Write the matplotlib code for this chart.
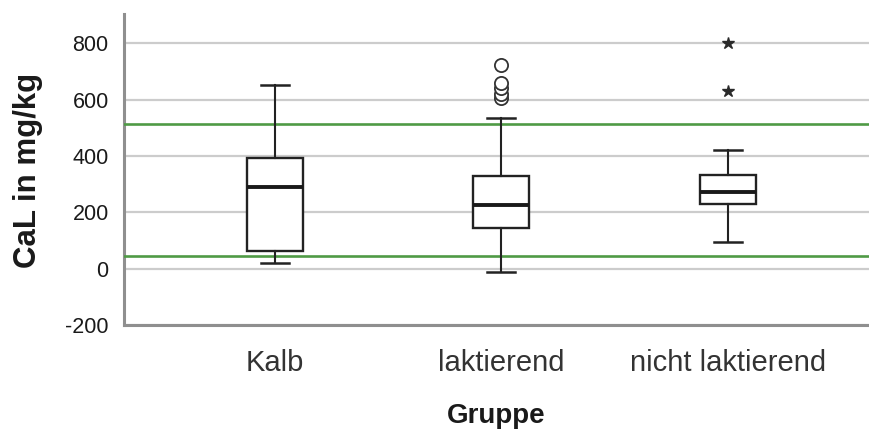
import matplotlib.pyplot as plt

plt.rcParams['font.family'] = ['Liberation Sans', 'DejaVu Sans']

# Calprotectin (CaL) per group, summary values for the box plots
groups = ['Kalb', 'laktierend', 'nicht laktierend']
q1 = [62, 143, 231]
median = [291, 226, 272]
q3 = [392, 329, 331]
whisker_lo = [21, -11, 95]
whisker_hi = [653, 536, 421]

# outliers (circles) and extreme values (stars)
outliers_lakt = [605, 622, 640, 660, 722]
extremes_nicht = [631, 800]

# reference range limits
ref_low = 46
ref_high = 514

fig = plt.figure(figsize=(8.69, 4.38), dpi=100)
ax = fig.add_axes([0.1427, 0.258, 0.8683, 0.711])

positions = [1, 2, 3]
stats = []
for i, name in enumerate(groups):
    stats.append({'label': name, 'med': median[i], 'q1': q1[i], 'q3': q3[i],
                  'whislo': whisker_lo[i], 'whishi': whisker_hi[i], 'fliers': []})

ax.bxp(stats, positions=positions, widths=0.247, capwidths=0.1235,
       showfliers=False, patch_artist=True,
       boxprops=dict(facecolor='white', edgecolor='#222222', linewidth=1.7),
       medianprops=dict(color='#1a1a1a', linewidth=2.8),
       whiskerprops=dict(color='#222222', linewidth=1.5),
       capprops=dict(color='#222222', linewidth=1.8),
       zorder=4)

# outlier markers
ax.plot([2] * len(outliers_lakt), outliers_lakt, 'o', markersize=9.5,
        markerfacecolor='white', markeredgecolor='#333333', markeredgewidth=1.3,
        linestyle='none', zorder=5)
ax.plot([3] * len(extremes_nicht), extremes_nicht, '*', markersize=9,
        color='#2a2a2a', linestyle='none', zorder=5)

# reference lines
for yv in (ref_low, ref_high):
    ax.axhline(yv, color='#4f9a45', linewidth=1.9, zorder=3)

ax.set_xlim(0.336, 3.664)
ax.set_ylim(-200, 906)
ax.set_yticks([-200, 0, 200, 400, 600, 800])
ax.set_yticklabels(['-200', '0', '200', '400', '600', '800'], fontsize=15.5, color='#1a1a1a')
ax.set_xticks(positions)
ax.set_xticklabels(groups, fontsize=21, color='#333333')
ax.tick_params(axis='both', length=0)
ax.tick_params(axis='y', pad=11)
ax.tick_params(axis='x', pad=17)

ax.yaxis.grid(True, color='#cccccc', linewidth=1.6, zorder=0)
ax.set_axisbelow(True)

for s in ('top', 'right'):
    ax.spines[s].set_visible(False)
for s in ('left', 'bottom'):
    ax.spines[s].set_color('#8f8f8f')
    ax.spines[s].set_linewidth(2.2)

fig.text(0.032, 0.612, 'CaL in mg/kg', rotation=90, fontsize=22.5,
         fontweight='bold', color='#1a1a1a', ha='center', va='center')
fig.text(0.571, 0.05, 'Gruppe', fontsize=20, fontweight='bold',
         color='#1a1a1a', ha='center', va='center')

fig.savefig('out.png', dpi=100)
